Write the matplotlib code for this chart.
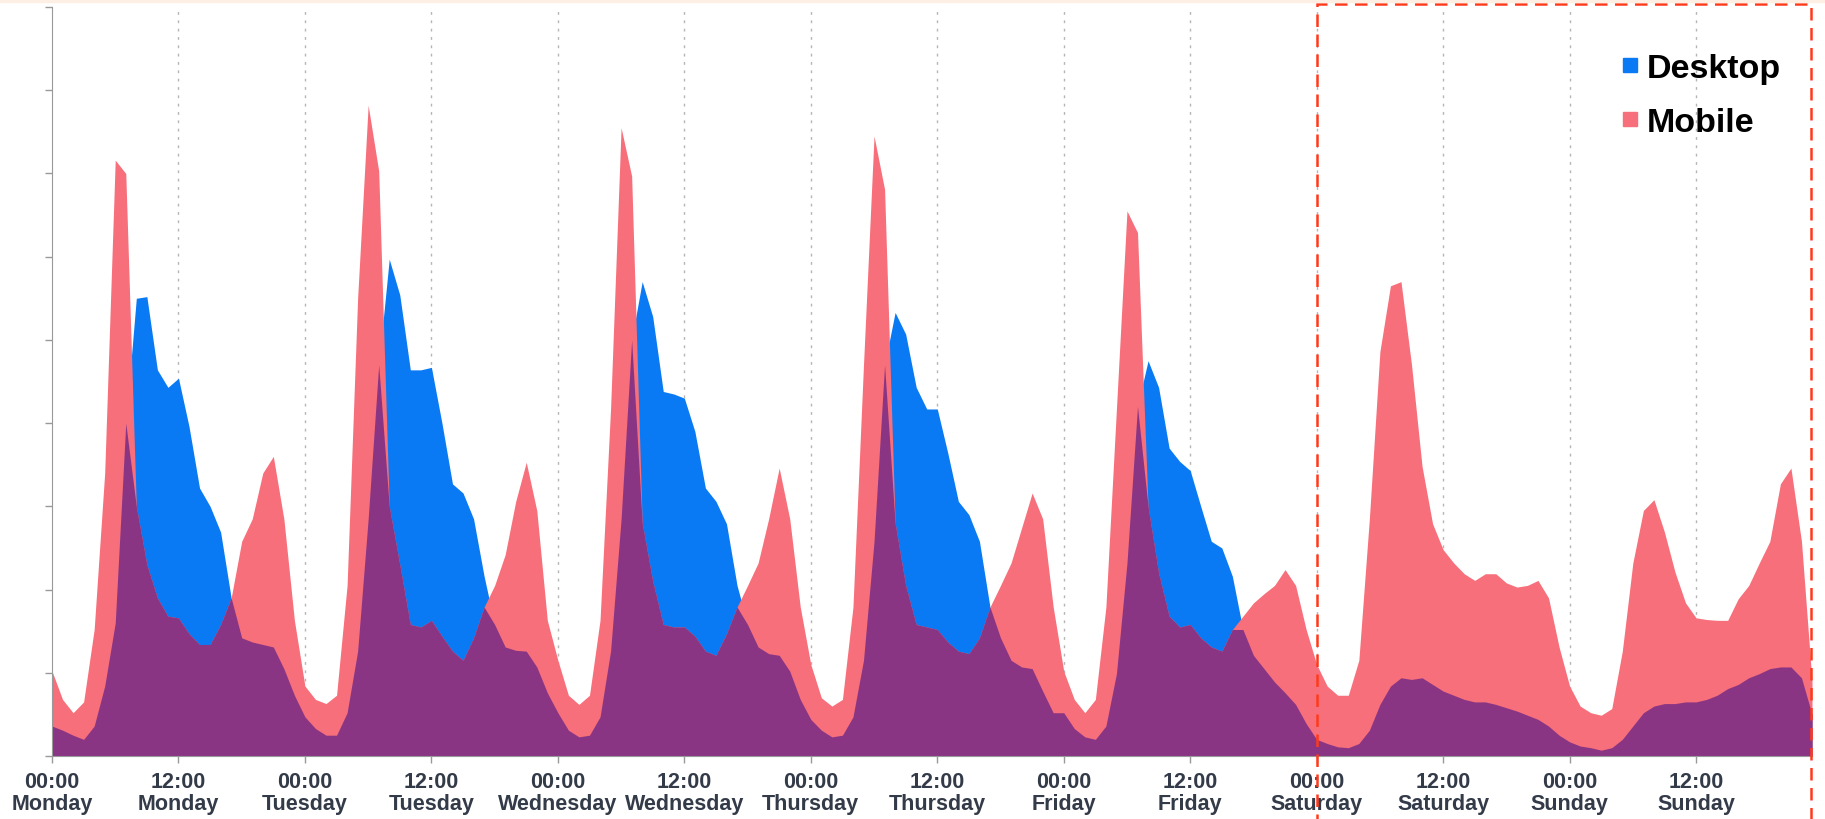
import matplotlib.pyplot as plt
from matplotlib.lines import Line2D
from matplotlib.patches import Rectangle
from matplotlib.transforms import blended_transform_factory

# hours since Monday 00:00, one reading per hour
hours = list(range(168))

desktop = [
    # Monday
    0.36, 0.31, 0.25, 0.20, 0.36, 0.84, 1.60, 4.00, 5.50, 5.52, 4.64, 4.43,
    4.54, 3.96, 3.22, 3.00, 2.69, 1.90, 1.42, 1.37, 1.34, 1.31, 1.05, 0.73,
    # Tuesday
    0.47, 0.33, 0.25, 0.25, 0.52, 1.26, 2.85, 4.70, 5.97, 5.54, 4.64, 4.64,
    4.67, 4.00, 3.27, 3.16, 2.85, 2.16, 1.58, 1.31, 1.27, 1.26, 1.07, 0.76,
    # Wednesday
    0.52, 0.31, 0.23, 0.25, 0.47, 1.26, 2.85, 5.00, 5.70, 5.28, 4.38, 4.35,
    4.30, 3.90, 3.22, 3.06, 2.79, 2.05, 1.58, 1.31, 1.23, 1.21, 1.02, 0.68,
    # Thursday
    0.44, 0.31, 0.23, 0.25, 0.47, 1.15, 2.58, 4.70, 5.33, 5.07, 4.43, 4.17,
    4.17, 3.64, 3.06, 2.90, 2.58, 1.79, 1.42, 1.15, 1.07, 1.05, 0.78, 0.52,
    # Friday
    0.52, 0.33, 0.23, 0.20, 0.36, 0.99, 2.32, 4.20, 4.75, 4.43, 3.70, 3.54,
    3.43, 3.00, 2.58, 2.50, 2.16, 1.52, 1.21, 1.05, 0.89, 0.76, 0.62, 0.39,
    # Saturday
    0.20, 0.15, 0.11, 0.10, 0.15, 0.31, 0.62, 0.84, 0.94, 0.92, 0.94, 0.86,
    0.78, 0.73, 0.68, 0.65, 0.65, 0.62, 0.58, 0.54, 0.49, 0.44, 0.36, 0.25,
    # Sunday
    0.17, 0.12, 0.10, 0.07, 0.10, 0.20, 0.36, 0.52, 0.60, 0.63, 0.63, 0.65,
    0.65, 0.68, 0.73, 0.81, 0.86, 0.94, 0.99, 1.05, 1.07, 1.07, 0.94, 0.50,
]

mobile = [
    # Monday
    1.02, 0.68, 0.52, 0.65, 1.52, 3.40, 7.16, 7.00, 3.00, 2.30, 1.90, 1.68,
    1.66, 1.47, 1.34, 1.34, 1.58, 1.90, 2.58, 2.85, 3.40, 3.60, 2.85, 1.63,
    # Tuesday
    0.84, 0.68, 0.63, 0.73, 2.05, 5.50, 7.82, 7.03, 3.00, 2.30, 1.58, 1.55,
    1.63, 1.44, 1.26, 1.15, 1.42, 1.79, 2.05, 2.42, 3.06, 3.53, 2.95, 1.63,
    # Wednesday
    1.15, 0.73, 0.62, 0.73, 1.63, 4.17, 7.55, 6.97, 2.80, 2.10, 1.58, 1.55,
    1.55, 1.44, 1.26, 1.21, 1.47, 1.79, 2.05, 2.32, 2.85, 3.46, 2.85, 1.79,
    # Thursday
    1.10, 0.70, 0.60, 0.68, 1.79, 4.70, 7.45, 6.81, 2.80, 2.05, 1.58, 1.55,
    1.52, 1.37, 1.26, 1.23, 1.42, 1.79, 2.05, 2.32, 2.74, 3.16, 2.85, 1.79,
    # Friday
    1.02, 0.68, 0.52, 0.68, 1.79, 4.17, 6.55, 6.29, 3.00, 2.20, 1.68, 1.55,
    1.58, 1.42, 1.31, 1.26, 1.52, 1.68, 1.84, 1.95, 2.05, 2.24, 2.05, 1.52,
    # Saturday
    1.10, 0.84, 0.73, 0.73, 1.15, 2.85, 4.86, 5.65, 5.70, 4.70, 3.48, 2.79,
    2.48, 2.32, 2.19, 2.11, 2.19, 2.19, 2.08, 2.03, 2.05, 2.11, 1.90, 1.31,
    # Sunday
    0.84, 0.60, 0.52, 0.49, 0.57, 1.26, 2.32, 2.95, 3.08, 2.69, 2.21, 1.84,
    1.66, 1.64, 1.63, 1.63, 1.89, 2.05, 2.32, 2.58, 3.27, 3.46, 2.58, 0.90,
]

tick_hours = list(range(0, 168, 12))
tick_labels = [
    "00:00\nMonday", "12:00\nMonday", "00:00\nTuesday", "12:00\nTuesday",
    "00:00\nWednesday", "12:00\nWednesday", "00:00\nThursday", "12:00\nThursday",
    "00:00\nFriday", "12:00\nFriday", "00:00\nSaturday", "12:00\nSaturday",
    "00:00\nSunday", "12:00\nSunday",
]

blue = "#0a7af4"
salmon = "#f66f7a"
purple = "#8a3584"

plt.rcParams["font.family"] = ["Liberation Sans", "DejaVu Sans"]

fig = plt.figure(figsize=(18.25, 8.2), dpi=100)
ax = fig.add_axes([52 / 1825, 63 / 820, (1812 - 52) / 1825, (757 - 8) / 820])

overlap = [min(d, m) for d, m in zip(desktop, mobile)]
ax.fill_between(hours, 0, desktop, color=blue, lw=0)
ax.fill_between(hours, 0, mobile, color=salmon, lw=0)
ax.fill_between(hours, 0, overlap, color=purple, lw=0)

ax.set_xlim(0, 167)
ax.set_ylim(0, 9)
ax.set_yticks(range(10))
ax.set_yticklabels([])
ax.set_xticks(tick_hours)
ax.set_xticklabels(tick_labels, fontsize=15.5, fontweight="bold",
                   color="#333a48", linespacing=1.05)
ax.tick_params(axis="both", direction="out", length=5, color="#999999", width=1)
ax.tick_params(axis="x", pad=6)

for h in tick_hours[1:]:
    ax.axvline(h, color="#b5b5b5", lw=1, ls=(0, (2, 4)), zorder=0)

for side in ("top", "right"):
    ax.spines[side].set_visible(False)
for side in ("left", "bottom"):
    ax.spines[side].set_color("#999999")

handles = [
    Line2D([], [], marker="s", ls="", color=blue, markersize=9.5),
    Line2D([], [], marker="s", ls="", color=salmon, markersize=9.5),
]
fig.legend(handles, ["Desktop", "Mobile"], loc="upper right",
           bbox_to_anchor=(1781 / 1825, 1 - 54 / 820), frameon=False,
           prop={"size": 24.5, "weight": "bold"}, handletextpad=0.25,
           labelspacing=0.68, handlelength=0.5, borderpad=0, borderaxespad=0)

# faint peach strip along the top edge
fig.patches.append(Rectangle((0, 0.996), 1, 0.004, transform=fig.transFigure,
                             color="#fdefe3", zorder=0))

# dashed box around the weekend
trans = blended_transform_factory(ax.transData, fig.transFigure)
box = Rectangle((120, -0.05), 46.9, 1.05 - 5 / 820, transform=trans, fill=False,
                edgecolor="#ff3a1c", lw=1.8, ls=(0, (5, 3)), clip_on=False,
                zorder=5)
ax.add_patch(box)

fig.savefig("out.png", dpi=100, facecolor="white")
